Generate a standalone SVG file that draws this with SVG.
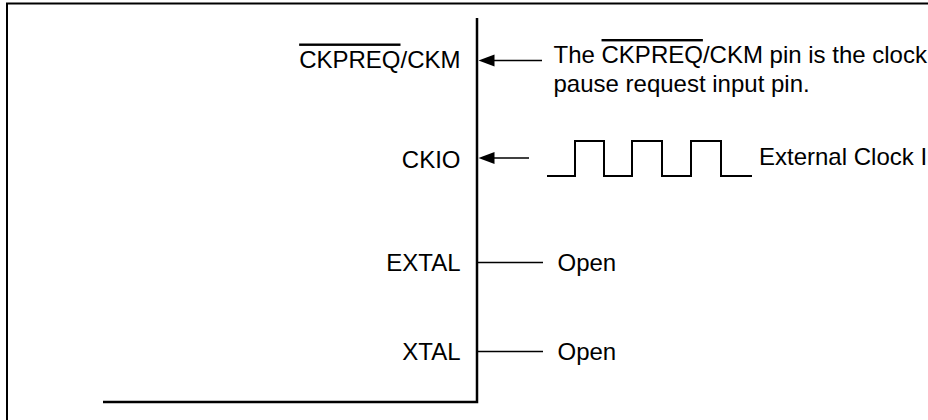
<svg xmlns="http://www.w3.org/2000/svg" width="928" height="420" viewBox="0 0 928 420">
<defs>
<style>
text{font-family:"Liberation Sans",Arial,Helvetica,sans-serif;font-size:24px;fill:#000}
.pin{text-anchor:end}
.frame{fill:none;stroke:#000;stroke-width:2}
.chip{fill:none;stroke:#000;stroke-width:2.5}
.conn{fill:none;stroke:#000;stroke-width:1.3}
.wave{fill:none;stroke:#000;stroke-width:2;stroke-linejoin:miter}
.ov{text-decoration:overline}
</style>
<marker id="ah" viewBox="0 0 16 12" refX="0" refY="6" markerWidth="16" markerHeight="12" markerUnits="userSpaceOnUse" orient="auto-start-reverse">
<path d="M0,6 L16,0 L16,12 Z" fill="#000"/>
</marker>
</defs>
<rect width="928" height="420" fill="#fff"/>
<rect class="frame" x="7" y="3.5" width="1000" height="500"/>

<g id="chip">
<path class="chip" d="M477,18 V402 H103"/>
</g>

<g id="pin-ckpreq">
<text class="pin" x="460.5" y="67.5"><tspan class="ov">CKPREQ</tspan>/CKM</text>
</g>
<g id="pin-ckio">
<text class="pin" x="460.5" y="168">CKIO</text>
</g>
<g id="pin-extal">
<text class="pin" x="460.5" y="271">EXTAL</text>
</g>
<g id="pin-xtal">
<text class="pin" x="460.5" y="359.5">XTAL</text>
</g>

<g id="note-ckpreq">
<text x="553.5" y="63">The <tspan class="ov">CKPREQ</tspan>/CKM pin is the clock</text>
<text x="553.5" y="92">pause request input pin.</text>
</g>
<g id="clock-source">
<path class="wave" d="M547,176 H575 V141 H604 V176 H632 V141 H662 V176 H691 V141 H721 V176 H752"/>
<text x="759" y="165">External Clock Input</text>
</g>
<g id="open-extal">
<text x="557.5" y="271">Open</text>
</g>
<g id="open-xtal">
<text x="557.5" y="359.5">Open</text>
</g>

<g id="connectors">
<line class="conn" x1="542" y1="60.5" x2="494" y2="60.5"/>
<path d="M478.5,60.5 L494.5,54.5 L494.5,66.5 Z" fill="#000"/>
<line class="conn" x1="529" y1="158" x2="494" y2="158"/>
<path d="M478.5,158 L494.5,152 L494.5,164 Z" fill="#000"/>
<line class="conn" x1="478" y1="262.5" x2="543" y2="262.5"/>
<line class="conn" x1="478" y1="351.5" x2="543" y2="351.5"/>
</g>
</svg>
